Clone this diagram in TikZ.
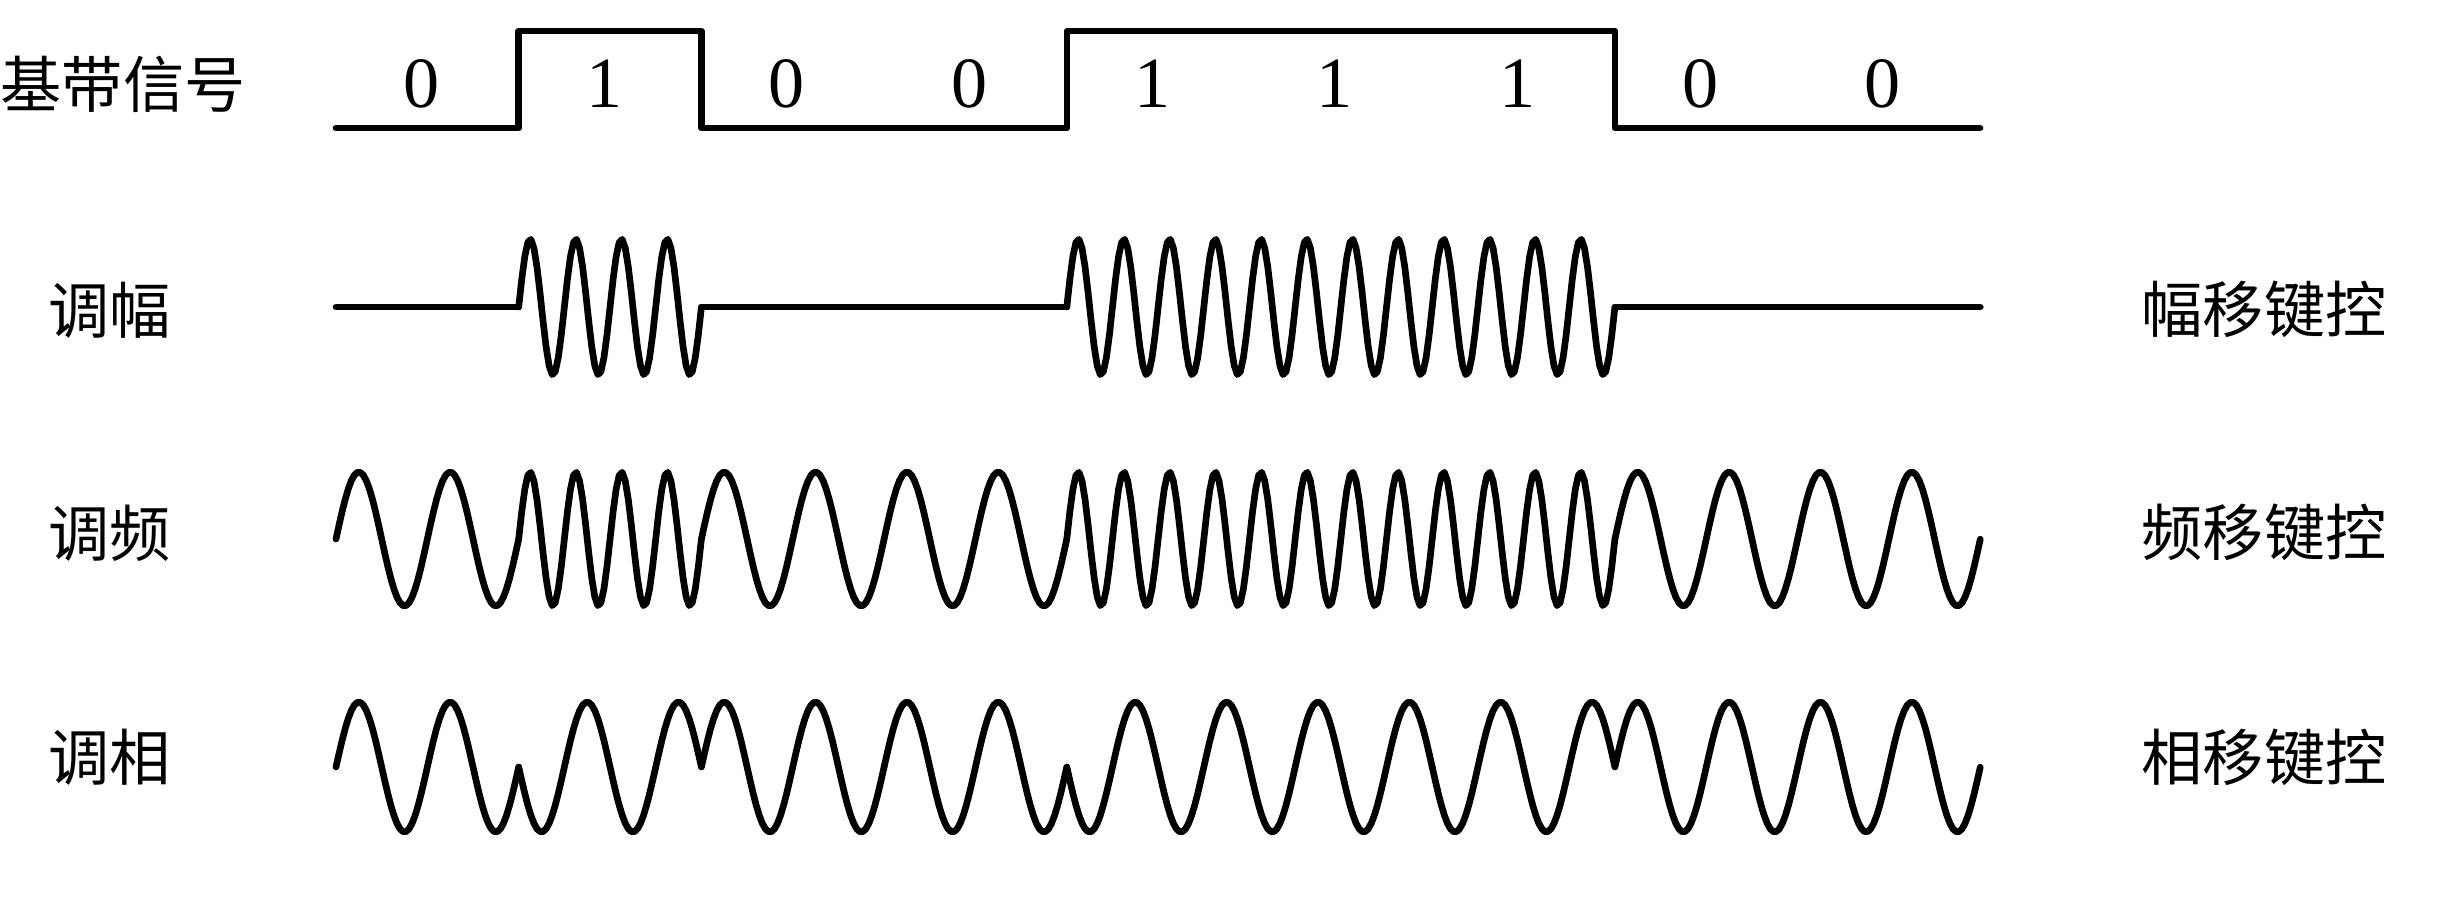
\documentclass[tikz,border=0pt]{standalone}
\usepackage{fontspec}
\newfontfamily\cjkfont{Noto Sans CJK SC}
\newfontfamily\bitfont{Liberation Serif}
\usetikzlibrary{positioning}

\begin{document}
\begin{tikzpicture}[
    x=0.01cm, y=-0.01cm,
    every node/.style={inner sep=0pt},
    lbl/.style={font=\cjkfont\fontsize{17.4pt}{20pt}\selectfont},
    bit/.style={font=\bitfont\fontsize{20.5pt}{24pt}\selectfont},
    wave/.style={line width=1.9pt, line join=round, line cap=round}
]
\useasboundingbox (0,0) rectangle (2451,907);
% row names
\node[lbl] (basename) at (123,84) {基带信号};
\node[lbl] (askname) at (110,310) {调幅};
\node[lbl] (fskname) at (110,533) {调频};
\node[lbl] (pskname) at (110,757) {调相};
\node[lbl] (askkey) at (2264,309) {幅移键控};
\node[lbl] (fskkey) at (2264,532) {频移键控};
\node[lbl] (pskkey) at (2264,757) {相移键控};
% baseband signal
\draw[wave] (336,128) -- (518.7,128) |- (701.4,31) |- (1067,128) |- (1614.9,31) |- (1980,128);
% one bit at a time: value, ASK, FSK, PSK
\foreach \b [count=\i from 0] in {0,1,0,0,1,1,1,0,0} {
    \node[bit] (bit\i) at ({330+182.7*(\i+0.5)},84) {\b};
    \draw[wave] plot[domain=0:1, samples=61, variable=\t] ({336+182.7*(\i+\t)}, {307-68*\b*sin(1440*\t)});
    \draw[wave] plot[domain=0:1, samples=61, variable=\t] ({336+182.7*(\i+\t)}, {539-67*sin((2+2*\b)*360*\t)});
    \draw[wave] plot[domain=0:1, samples=61, variable=\t] ({336+182.7*(\i+\t)}, {767-65*(1-2*\b)*sin(720*\t)});
}
\end{tikzpicture}
\end{document}
